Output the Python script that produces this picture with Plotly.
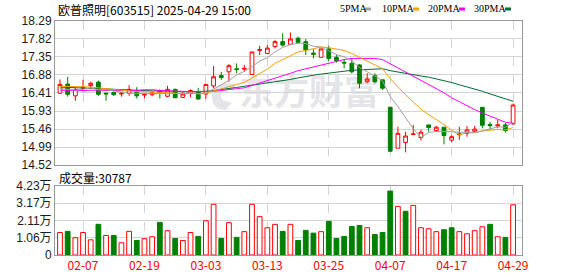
import plotly.graph_objects as go

# ---------------- data ----------------
dates = ["01-27", "02-05", "02-06", "02-07", "02-10", "02-11", "02-12", "02-13", "02-14", "02-17",
         "02-18", "02-19", "02-20", "02-21", "02-24", "02-25", "02-26", "02-27", "02-28", "03-03",
         "03-04", "03-05", "03-06", "03-07", "03-10", "03-11", "03-12", "03-13", "03-14", "03-17",
         "03-18", "03-19", "03-20", "03-21", "03-24", "03-25", "03-26", "03-27", "03-28", "03-31",
         "04-01", "04-02", "04-03", "04-07", "04-08", "04-09", "04-10", "04-11", "04-14", "04-15",
         "04-16", "04-17", "04-18", "04-21", "04-22", "04-23", "04-24", "04-25", "04-28", "04-29"]

open_ = [16.40, 16.64, 16.33, 16.53, 16.60, 16.69, 16.40, 16.42, 16.38, 16.40,
         16.44, 16.35, 16.36, 16.46, 16.32, 16.50, 16.29, 16.39, 16.44, 16.38,
         16.59, 16.86, 16.96, 17.04, 17.03, 16.89, 17.52, 17.44, 17.62, 17.75,
         17.68, 17.84, 17.75, 17.45, 17.34, 17.56, 17.34, 17.21, 17.18, 17.14,
         16.70, 16.86, 16.75, 16.03, 14.96, 15.11, 15.32, 15.24, 15.57, 15.42,
         15.51, 15.17, 15.31, 15.35, 15.40, 16.03, 15.58, 15.54, 15.57, 15.60]
high = [16.76, 16.83, 16.53, 16.75, 16.70, 16.73, 16.42, 16.44, 16.43, 16.61,
        16.56, 16.41, 16.45, 16.50, 16.59, 16.52, 16.44, 16.50, 16.54, 16.63,
        17.11, 16.96, 17.16, 17.18, 17.14, 17.48, 17.64, 17.66, 17.79, 17.97,
        17.99, 17.88, 17.82, 17.55, 17.56, 17.64, 17.40, 17.29, 17.31, 17.16,
        16.92, 16.92, 16.75, 16.05, 15.52, 15.39, 15.57, 15.44, 15.57, 15.54,
        15.51, 15.30, 15.52, 15.54, 15.54, 16.03, 15.65, 15.70, 15.62, 16.13]
low = [16.38, 16.31, 16.20, 16.44, 16.53, 16.33, 16.20, 16.33, 16.31, 16.33,
       16.26, 16.27, 16.32, 16.26, 16.29, 16.28, 16.28, 16.29, 16.22, 16.25,
       16.53, 16.75, 16.70, 16.92, 16.96, 16.89, 17.40, 17.42, 17.57, 17.62,
       17.66, 17.69, 17.40, 17.31, 17.34, 17.24, 17.20, 17.05, 16.92, 16.53,
       16.66, 16.66, 16.48, 14.87, 14.96, 14.85, 15.30, 15.16, 15.39, 15.38,
       15.06, 15.11, 15.18, 15.26, 15.38, 15.48, 15.46, 15.48, 15.37, 15.56]
close = [16.63, 16.37, 16.50, 16.55, 16.66, 16.37, 16.38, 16.36, 16.40, 16.50,
         16.33, 16.37, 16.41, 16.40, 16.50, 16.28, 16.38, 16.47, 16.25, 16.63,
         16.83, 16.81, 17.12, 17.02, 17.05, 17.48, 17.54, 17.58, 17.75, 17.66,
         17.82, 17.73, 17.53, 17.42, 17.56, 17.31, 17.25, 17.19, 16.96, 16.66,
         16.77, 16.70, 16.53, 14.88, 15.35, 15.28, 15.33, 15.38, 15.50, 15.51,
         15.29, 15.26, 15.33, 15.44, 15.46, 15.56, 15.55, 15.57, 15.42, 16.09]

ma5 = [16.52, 16.50, 16.48, 16.50, 16.54, 16.49, 16.49, 16.46, 16.43, 16.40,
       16.39, 16.39, 16.40, 16.40, 16.40, 16.39, 16.39, 16.41, 16.38, 16.40,
       16.51, 16.60, 16.73, 16.88, 16.97, 17.10, 17.24, 17.33, 17.48, 17.60,
       17.67, 17.71, 17.70, 17.63, 17.61, 17.51, 17.41, 17.35, 17.25, 17.07,
       16.97, 16.85, 16.72, 16.31, 16.05, 15.75, 15.47, 15.24, 15.37, 15.40,
       15.40, 15.39, 15.38, 15.37, 15.36, 15.41, 15.47, 15.52, 15.51, 15.64]
ma10 = [16.58, 16.58, 16.58, 16.57, 16.56, 16.54, 16.51, 16.49, 16.48, 16.47,
        16.44, 16.44, 16.43, 16.42, 16.40, 16.39, 16.39, 16.40, 16.39, 16.40,
        16.45, 16.50, 16.57, 16.63, 16.68, 16.80, 16.92, 17.03, 17.18, 17.28,
        17.38, 17.48, 17.52, 17.56, 17.61, 17.59, 17.56, 17.52, 17.44, 17.34,
        17.24, 17.14, 17.04, 16.78, 16.56, 16.36, 16.17, 15.98, 15.84, 15.72,
        15.58, 15.43, 15.31, 15.37, 15.38, 15.41, 15.43, 15.45, 15.44, 15.50]
ma20 = [16.48, 16.47, 16.47, 16.47, 16.48, 16.48, 16.47, 16.47, 16.46, 16.46,
        16.47, 16.49, 16.49, 16.47, 16.46, 16.45, 16.45, 16.44, 16.44, 16.44,
        16.45, 16.47, 16.50, 16.52, 16.54, 16.60, 16.66, 16.72, 16.79, 16.84,
        16.92, 16.99, 17.04, 17.09, 17.15, 17.20, 17.24, 17.28, 17.31, 17.31,
        17.31, 17.31, 17.28, 17.17, 17.08, 16.97, 16.86, 16.75, 16.64, 16.53,
        16.41, 16.28, 16.17, 16.07, 15.97, 15.88, 15.80, 15.72, 15.64, 15.61]
ma30 = [16.56, 16.55, 16.54, 16.53, 16.53, 16.52, 16.51, 16.50, 16.49, 16.48,
        16.47, 16.47, 16.46, 16.46, 16.45, 16.45, 16.44, 16.44, 16.44, 16.45,
        16.47, 16.49, 16.52, 16.55, 16.58, 16.61, 16.64, 16.67, 16.70, 16.72,
        16.76, 16.80, 16.84, 16.87, 16.90, 16.93, 16.96, 16.99, 17.00, 17.01,
        17.02, 17.04, 17.04, 16.99, 16.95, 16.92, 16.88, 16.85, 16.82, 16.78,
        16.73, 16.68, 16.62, 16.57, 16.52, 16.45, 16.38, 16.32, 16.24, 16.19]

volume = [13800, 14500, 10600, 13800, 9300, 18800, 12000, 12000, 7500, 14500,
          8900, 10000, 11200, 20000, 14900, 10100, 8900, 13800, 11400, 21000,
          31100, 10100, 19800, 10800, 14300, 31100, 23500, 16700, 18800, 14500,
          18800, 8900, 15100, 13400, 14300, 20600, 10100, 11400, 17500, 18100,
          16700, 12600, 13800, 39200, 29800, 26800, 30400, 16700, 16100, 14300,
          15500, 16700, 14300, 13000, 14900, 17300, 18800, 11200, 10800, 30787]

price_ticks = [14.52, 14.99, 15.46, 15.93, 16.41, 16.88, 17.35, 17.82, 18.29]
vol_ticks = [0, 10575, 21150, 31725, 42300]
vol_tick_text = ["0", "1.06万", "2.11万", "3.17万", "4.23万"]
date_ticks = ["02-07", "02-19", "03-03", "03-13", "03-25", "04-07", "04-17", "04-29"]

title_text = "欧普照明[603515] 2025-04-29 15:00"
vol_title = "成交量:30787"
ma_names = ["5PMA", "10PMA", "20PMA", "30PMA"]
watermark = "东方财富"

# ---------------- styling / layout ----------------
W, H = 578, 276
L, R, T, B = 55, 56, 21, 21
PW, PH = W - L - R, H - T - B

def px(x):
    return (x - L) / PW

def py(y):
    return (H - B - y) / PH

RED = "#ff0000"
GREEN = "#008000"
MA_COLORS = ["#a0a0a0", "#f5a000", "#ff00ff", "#006d32"]
GRID = "#d4d4d4"
FRAME = "#999999"
CJK = "Noto Sans CJK SC"

fig = go.Figure()

fig.add_trace(go.Candlestick(
    x=dates, open=open_, high=high, low=low, close=close,
    increasing=dict(line=dict(color=RED, width=1), fillcolor="#ffffff"),
    decreasing=dict(line=dict(color=GREEN, width=1), fillcolor=GREEN),
    whiskerwidth=0, showlegend=False, hoverinfo="skip",
    xaxis="x", yaxis="y"))

for vals, col in zip([ma30, ma20, ma10, ma5], MA_COLORS[::-1]):
    fig.add_trace(go.Scatter(x=dates, y=vals, mode="lines",
                             line=dict(color=col, width=1),
                             showlegend=False, hoverinfo="skip",
                             xaxis="x", yaxis="y"))

vol_up = [(close[i] >= (close[i - 1] if i > 0 else open_[i])) for i in range(len(close))]
fig.add_trace(go.Bar(
    x=dates, y=volume, width=0.62,
    marker=dict(color=["#ffffff" if u else GREEN for u in vol_up],
                line=dict(color=[RED if u else GREEN for u in vol_up], width=1)),
    showlegend=False, hoverinfo="skip", xaxis="x2", yaxis="y2"))

xcommon = dict(type="category", range=[-0.65, 60.16], tickmode="array",
               tickvals=date_ticks, ticktext=date_ticks,
               showgrid=True, gridcolor=GRID, griddash="dash", gridwidth=1,
               showline=True, mirror=True, linecolor=FRAME, linewidth=1,
               ticks="", zeroline=False, fixedrange=True, automargin=False)

price_dom = [py(165), 1.0]
vol_dom = [0.0, py(186)]

fig.update_layout(
    width=W, height=H,
    margin=dict(l=L, r=R, t=T, b=B, pad=0, autoexpand=False),
    paper_bgcolor="#ffffff", plot_bgcolor="#ffffff",
    showlegend=False, bargap=0.3,
    xaxis=dict(**xcommon, anchor="y", domain=[0, 1], showticklabels=False,
               rangeslider=dict(visible=False)),
    xaxis2=dict(**xcommon, anchor="y2", domain=[0, 1], matches="x", showticklabels=True,
                tickfont=dict(family=CJK, size=12, color=RED)),
    yaxis=dict(domain=price_dom, range=[14.52, 18.29], tickmode="array",
               tickvals=price_ticks, ticktext=[f"{v:.2f}" for v in price_ticks],
               showgrid=True, gridcolor=GRID, gridwidth=1,
               showline=True, mirror=True, linecolor=FRAME, linewidth=1,
               ticks="", zeroline=False, automargin=False,
               tickfont=dict(family="Liberation Sans", size=12, color="#1a1a1a")),
    yaxis2=dict(domain=vol_dom, range=[0, 42300], tickmode="array",
                tickvals=vol_ticks, ticktext=vol_tick_text,
                showgrid=True, gridcolor=GRID, gridwidth=1,
                showline=True, mirror=True, linecolor=FRAME, linewidth=1,
                ticks="", zeroline=False, automargin=False,
                tickfont=dict(family="Liberation Sans, " + CJK, size=12, color="#1a1a1a")),
)

annotations = [
    dict(text=title_text, x=px(56), y=py(10), xref="paper", yref="paper",
         xanchor="left", yanchor="middle", showarrow=False,
         font=dict(family=CJK, size=12, color="#000000")),
    dict(text=vol_title, x=px(57), y=py(177), xref="paper", yref="paper",
         xanchor="left", yanchor="middle", showarrow=False,
         font=dict(family=CJK, size=12, color="#000000")),
]
legend_x = [338, 380, 426, 472]
marker_x = [365, 413, 459, 505]
shapes = []
for name, lx, mx, col in zip(ma_names, legend_x, marker_x, MA_COLORS):
    annotations.append(dict(text=name, x=px(lx), y=py(9), xref="paper", yref="paper",
                            xanchor="left", yanchor="middle", showarrow=False,
                            font=dict(family="Liberation Serif", size=10, color="#000000")))
    shapes.append(dict(type="rect", xref="paper", yref="paper",
                       x0=px(mx), x1=px(mx + 6), y0=py(10.5), y1=py(7.5),
                       fillcolor=col, line=dict(width=0)))

# faint watermark behind the data
shapes.append(dict(type="rect", xref="paper", yref="paper", layer="below",
                   x0=px(236), x1=px(382), y0=py(112), y1=py(78),
                   line=dict(width=0), fillcolor="rgba(0,0,0,0)",
                   label=dict(text="<b>" + watermark + "</b>", textposition="middle center",
                              font=dict(family=CJK, size=35, color="#e4e4e9"))))
# rough logo mark to the left of the watermark text
shapes.append(dict(type="path", xref="paper", yref="paper", layer="below",
                   path=(f"M {px(236)},{py(84)} Q {px(214)},{py(80)} {px(212)},{py(96)} "
                         f"Q {px(212)},{py(110)} {px(226)},{py(110)} "
                         f"L {px(232)},{py(102)} Q {px(220)},{py(102)} {px(221)},{py(95)} "
                         f"Q {px(223)},{py(88)} {px(233)},{py(91)} Z"),
                   fillcolor="#e4e4e9", line=dict(width=0)))

fig.update_layout(annotations=annotations, shapes=shapes)

fig.write_html("out.html")
